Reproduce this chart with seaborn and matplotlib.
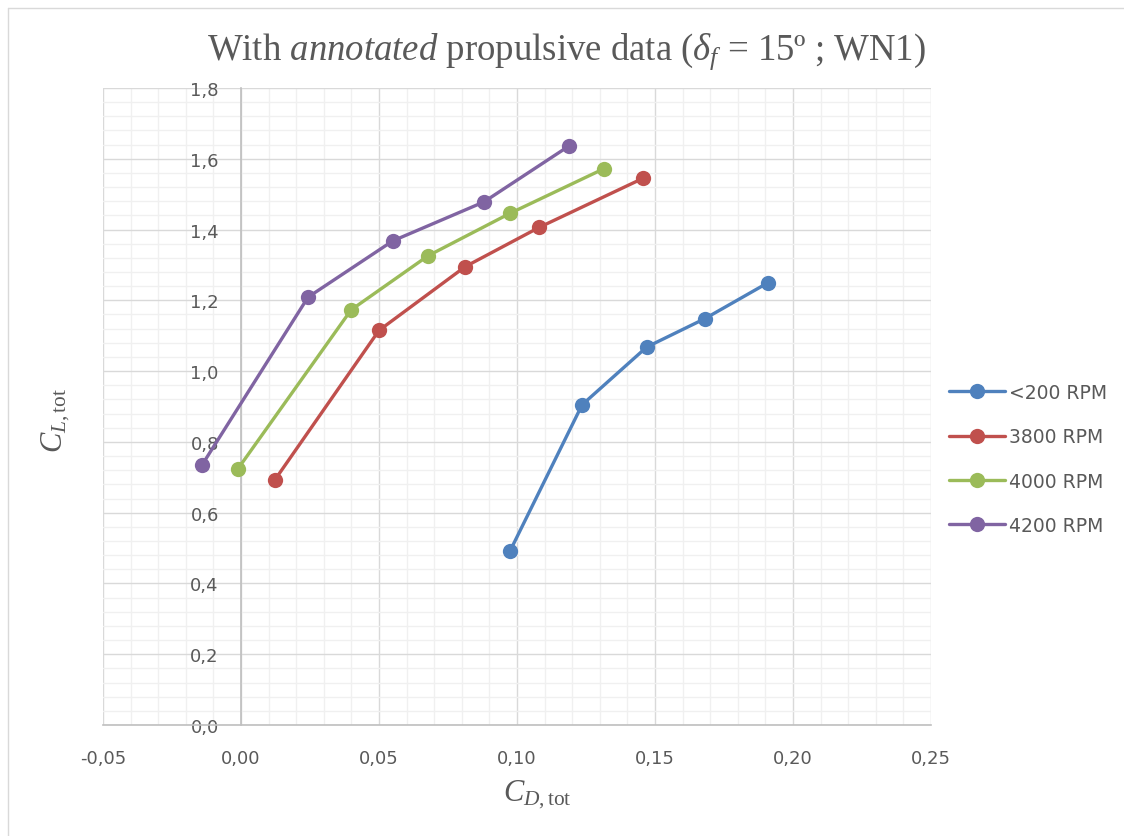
import numpy as np
import pandas as pd
import matplotlib
matplotlib.use("Agg")
import matplotlib.pyplot as plt
from matplotlib.lines import Line2D
from matplotlib.ticker import MultipleLocator, FuncFormatter
import seaborn as sns

# ---- data ----
series_names = ["<200 RPM", "3800 RPM", "4000 RPM", "4200 RPM"]
cd_200 = [0.0975, 0.1236, 0.1470, 0.1680, 0.1910]
cl_200 = [0.492, 0.905, 1.068, 1.148, 1.250]
cd_3800 = [0.0123, 0.0500, 0.0812, 0.1080, 0.1457]
cl_3800 = [0.693, 1.115, 1.295, 1.406, 1.545]
cd_4000 = [-0.0011, 0.0399, 0.0678, 0.0975, 0.1315]
cl_4000 = [0.724, 1.173, 1.326, 1.446, 1.572]
cd_4200 = [-0.0141, 0.0243, 0.0550, 0.0880, 0.1190]
cl_4200 = [0.735, 1.209, 1.368, 1.478, 1.637]
colors = ["#4F81BD", "#C0504D", "#9BBB59", "#8064A2"]

frames = []
for name, xs, ys in zip(series_names,
                        [cd_200, cd_3800, cd_4000, cd_4200],
                        [cl_200, cl_3800, cl_4000, cl_4200]):
    frames.append(pd.DataFrame({"CD": xs, "CL": ys, "series": name}))
df = pd.concat(frames, ignore_index=True)

sns.set_style("white")
plt.rcParams["font.family"] = ["DejaVu Sans"]
plt.rcParams["mathtext.fontset"] = "custom"
plt.rcParams["mathtext.rm"] = "Liberation Serif"
plt.rcParams["mathtext.it"] = "Liberation Serif:italic"
plt.rcParams["mathtext.bf"] = "Liberation Serif:bold"

text_c = "#595959"
grid_major = "#d9d9d9"
grid_minor = "#f0f0f0"

fig = plt.figure(figsize=(11.24, 8.37), dpi=100)
ax = fig.add_axes([103/1124, 1-726/837, (931-103)/1124, (726-89)/837])

sns.lineplot(data=df, x="CD", y="CL", hue="series", hue_order=series_names,
             palette=colors, sort=False, estimator=None, units="series",
             marker="o", markersize=11, markeredgewidth=0, linewidth=2.4,
             legend=False, ax=ax, zorder=5)

ax.set_xlim(-0.05, 0.25)
ax.set_ylim(0.0, 1.8)
ax.xaxis.set_major_locator(MultipleLocator(0.05))
ax.xaxis.set_minor_locator(MultipleLocator(0.01))
ax.yaxis.set_major_locator(MultipleLocator(0.2))
ax.yaxis.set_minor_locator(MultipleLocator(0.04))
ax.xaxis.set_major_formatter(FuncFormatter(lambda v, p: f"{v:.2f}".replace(".", ",").replace("-0,00", "0,00")))
ax.yaxis.set_major_formatter(FuncFormatter(lambda v, p: f"{v:.1f}".replace(".", ",")))

ax.set_axisbelow(True)
ax.grid(which="major", color=grid_major, linewidth=1.0)
ax.grid(which="minor", color=grid_minor, linewidth=1.0)

for s in ["top", "right"]:
    ax.spines[s].set_visible(False)
ax.spines["left"].set_position(("data", 0.0))
ax.spines["left"].set_color("#bfbfbf")
ax.spines["bottom"].set_color("#bfbfbf")
ax.spines["left"].set_linewidth(1.2)
ax.spines["bottom"].set_linewidth(1.2)

ax.tick_params(which="major", direction="out", length=6, width=1.2,
               color="#bfbfbf", labelcolor=text_c, labelsize=13)
ax.tick_params(axis="x", which="major", pad=11)
ax.tick_params(axis="y", which="major", pad=10)
ax.tick_params(which="minor", length=0)

ax.set_xlabel(r"$C_{D,\mathrm{tot}}$", fontsize=22, color=text_c)
ax.xaxis.set_label_coords(0.525, -0.083)
ax.set_ylabel(r"$C_{L,\mathrm{tot}}$", fontsize=22, color=text_c)
ax.yaxis.set_label_coords(-0.038, 0.479)

ax.set_title(r"With $\mathit{annotated}$ propulsive data ($\delta_f$ = 15º ; WN1)",
             fontsize=26.5, color=text_c, family="Liberation Serif", pad=21,
             x=(566-103)/828)

handles = [Line2D([0], [0], color=c, lw=2.4, marker="o", markersize=11,
                  markeredgewidth=0) for c in colors]
leg = fig.legend(handles, series_names, loc="center left",
                 bbox_to_anchor=(932/1124, 1-460/837), frameon=False,
                 fontsize=13.5, handlelength=3.0, labelspacing=1.35,
                 handletextpad=0.2)
for t in leg.get_texts():
    t.set_color(text_c)

# chart-area border (top and left edges visible in the reference)
fig.add_artist(Line2D([8/1124, 1.0], [1-9/837, 1-9/837], transform=fig.transFigure,
                      color="#d9d9d9", linewidth=1.0))
fig.add_artist(Line2D([8/1124, 8/1124], [0.0, 1-9/837], transform=fig.transFigure,
                      color="#d9d9d9", linewidth=1.0))

fig.savefig("out.png", dpi=100)
